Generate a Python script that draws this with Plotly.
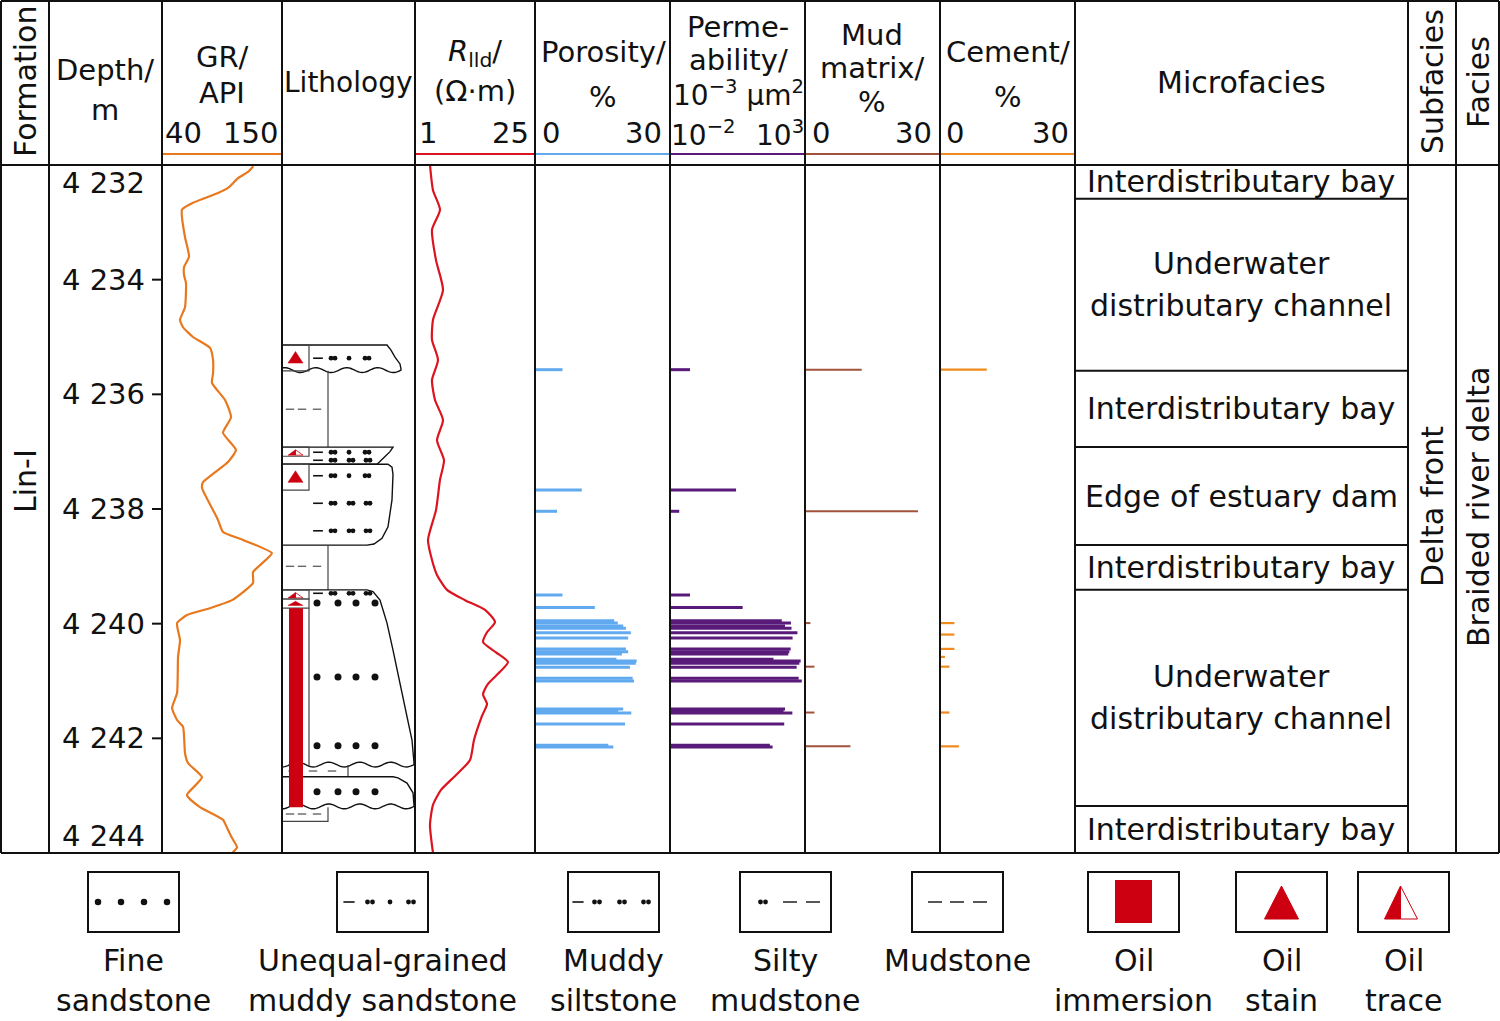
import numpy as np
import plotly.graph_objects as go

W, H = 1500, 1021
FONT = "DejaVu Sans"
INK = "#111111"
C_GR, C_RLLD, C_PORO, C_PERM, C_MUD, C_CEM, C_OIL = (
    "#e8781e", "#dc1420", "#62aaf0", "#5a1a7a", "#a0523a", "#f08a1c", "#cc0010")

# ---------------- data ----------------
depth_ticks = [4232, 4234, 4236, 4238, 4240, 4242, 4244]
depth_labels = ["4 232", "4 234", "4 236", "4 238", "4 240", "4 242", "4 244"]

gr_depth = [4232.02, 4232.12, 4232.23, 4232.40, 4232.49, 4232.66, 4232.78, 4232.91, 4233.26, 4233.60,
            4233.78, 4233.92, 4234.06, 4234.48, 4234.70, 4234.83, 4235.00, 4235.19, 4235.40, 4235.63,
            4235.80, 4236.10, 4236.40, 4236.67, 4236.97, 4237.18, 4237.53, 4237.63, 4238.02, 4238.19,
            4238.40, 4238.54, 4238.77, 4238.98, 4239.10, 4239.29, 4239.59, 4239.73, 4239.85, 4239.99,
            4240.29, 4240.58, 4241.21, 4241.47, 4241.68, 4241.80, 4242.26, 4242.43, 4242.68, 4242.99,
            4243.20, 4243.42, 4243.56, 4243.74, 4243.90, 4244.00]
gr_api = [123.7, 118.8, 109.7, 100.5, 91.3, 68.4, 58.3, 58.3, 61.1, 64.8,
          60.2, 60.2, 62.0, 61.1, 56.5, 59.3, 68.4, 84.0, 86.8, 86.8,
          85.8, 97.8, 103.3, 95.9, 107.8, 100.5, 77.6, 76.7, 86.8, 91.3,
          95.9, 114.3, 140.8, 129.8, 123.4, 123.4, 104.2, 84.0, 62.9, 53.8,
          56.5, 54.7, 53.8, 49.2, 53.8, 59.3, 61.1, 63.8, 76.7, 62.9,
          74.8, 95.9, 99.6, 104.2, 108.8, 104.2]

rlld_depth = [4232.00, 4232.44, 4232.78, 4233.13, 4233.66, 4234.18, 4234.70, 4235.05, 4235.40, 4235.75,
              4236.10, 4236.45, 4236.80, 4237.15, 4237.49, 4238.02, 4238.54, 4238.89, 4239.15, 4239.41,
              4239.59, 4239.76, 4239.97, 4240.15, 4240.32, 4240.50, 4240.67, 4240.84, 4241.05, 4241.23,
              4241.40, 4241.61, 4242.03, 4242.38, 4242.64, 4242.90, 4243.16, 4243.51, 4244.00]
rlld_ohmm = [4.0, 4.6, 6.0, 4.4, 5.2, 6.6, 4.6, 4.4, 5.6, 4.4,
             5.0, 6.6, 5.4, 6.8, 6.0, 5.2, 3.6, 4.4, 5.4, 7.4,
             11.0, 15.0, 17.0, 15.4, 14.6, 17.2, 19.6, 18.0, 15.6, 14.6,
             15.4, 14.4, 12.8, 12.0, 9.2, 6.2, 4.6, 4.0, 4.6]

core_depth = [4235.57, 4237.67, 4238.04, 4239.50, 4239.72, 4239.95, 4239.99, 4240.04, 4240.08, 4240.16,
              4240.25, 4240.44, 4240.49, 4240.53, 4240.62, 4240.65, 4240.69, 4240.76, 4240.95, 4241.00,
              4241.49, 4241.52, 4241.56, 4241.75, 4242.12, 4242.15]
porosity = [6.1, 10.4, 4.9, 6.1, 13.3, 17.6, 18.4, 19.6, 20.2, 21.3,
            20.7, 20.2, 20.7, 19.3, 18.1, 22.6, 22.4, 21.1, 21.7, 22.0,
            19.6, 18.5, 21.4, 20.0, 16.3, 17.4]
permeability = [0.055, 2.8, 0.022, 0.055, 4.9, 138, 302, 182, 316, 525,
                 347, 295, 263, 240, 68, 690, 617, 490, 583, 760,
                 182, 160, 340, 170, 50, 63]

mud_depth = [4235.57, 4238.04, 4239.99, 4240.75, 4241.55, 4242.14]
mud_matrix = [12.6, 25.1, 1.2, 2.1, 2.1, 10.1]
cement_depth = [4235.57, 4239.99, 4240.19, 4240.44, 4240.58, 4240.75, 4241.55, 4242.14]
cement = [10.4, 3.2, 3.2, 3.2, 1.1, 2.1, 2.1, 4.2]

mf_top = [4232.00, 4232.59, 4235.59, 4236.92, 4238.63, 4239.41, 4243.18]
mf_bottom = [4232.59, 4235.59, 4236.92, 4238.63, 4239.41, 4243.18, 4244.00]
mf_names = ["Interdistributary bay", "Underwater|distributary channel", "Interdistributary bay",
            "Edge of estuary dam", "Interdistributary bay", "Underwater|distributary channel",
            "Interdistributary bay"]
formation = "Lin-I"
subfacies = "Delta front"
facies = "Braided river delta"

# lithology beds (width = grain-size profile of the column)
bed_top = [4235.14, 4235.59, 4236.92, 4237.22, 4238.63, 4239.41, 4242.47, 4242.67, 4243.20]
bed_bottom = [4235.59, 4236.92, 4237.22, 4238.63, 4239.41, 4242.47, 4242.67, 4243.20, 4243.45]
bed_lith = ["unequal", "mudstone", "muddy_silt", "muddy_silt", "mudstone", "fine", "silty_mud", "fine", "mudstone"]
bed_base = ["wavy", "flat", "flat", "flat", "flat", "wavy", "flat", "wavy", "flat"]
bed_edge = [
    [(4235.14, 105), (4235.23, 109), (4235.35, 113), (4235.47, 118), (4235.56, 119)],
    [(4235.59, 46), (4236.92, 46)],
    [(4236.92, 111), (4237.00, 108), (4237.10, 102), (4237.22, 95)],
    [(4237.22, 106), (4237.27, 110), (4237.40, 111), (4237.84, 110), (4238.31, 106),
     (4238.51, 100), (4238.61, 92), (4238.63, 85)],
    [(4238.63, 46), (4239.41, 46)],
    [(4239.41, 85), (4239.44, 91), (4239.59, 98), (4239.99, 105), (4240.46, 111),
     (4241.04, 118), (4241.62, 125), (4242.03, 130), (4242.43, 132)],
    [(4242.47, 66), (4242.67, 66)],
    [(4242.67, 111), (4242.69, 116), (4242.78, 125), (4242.95, 131), (4243.16, 132)],
    [(4243.20, 46), (4243.45, 46)],
]
pattern_depth = [4235.37, 4236.26, 4237.01, 4237.15, 4237.42, 4237.90, 4238.38, 4239.00,
                 4239.47, 4239.64, 4240.93, 4242.13, 4242.57, 4242.93, 4243.32]
pattern_type = ["unequal", "mudstone", "unequal", "muddy_silt", "unequal", "muddy_silt", "muddy_silt",
                "mudstone", "muddy_silt", "fine", "fine", "fine", "silty_mud", "fine", "mudstone"]

oil_top = [4235.14, 4236.92, 4237.22, 4239.41, 4239.57, 4239.73]
oil_bottom = [4235.59, 4237.08, 4237.67, 4239.57, 4239.73, 4243.20]
oil_grade = ["stain", "trace", "stain", "trace", "stain", "immersion"]

legend_labels = [["Fine", "sandstone"], ["Unequal-grained", "muddy sandstone"], ["Muddy", "siltstone"],
                 ["Silty", "mudstone"], ["Mudstone"], ["Oil", "immersion"], ["Oil", "stain"], ["Oil", "trace"]]
legend_kind = ["fine", "unequal", "muddy_silt", "silty_mud", "mudstone", "immersion", "stain", "trace"]

# ---------------- layout geometry (pixels) ----------------
TOPY, HEADY, BOTY = 1, 165, 853
COLS = [1, 49, 162, 282, 415, 535, 670, 805, 940, 1075, 1408, 1456, 1499]
PXM = (BOTY - HEADY) / (depth_ticks[-1] - depth_ticks[0])   # pixels per metre


def dom(a, b):
    return [a / W, b / W]


fig = go.Figure()


def seg(depths, values, base):
    xs, ys = [], []
    for d, v in zip(depths, values):
        xs += [base, v, None]
        ys += [d, d, None]
    return xs, ys


def add(tr):
    tr.update(hoverinfo="skip", showlegend=False)
    fig.add_trace(tr)


add(go.Scatter(x=gr_api, y=gr_depth, xaxis="x", yaxis="y", mode="lines",
               line=dict(color=C_GR, width=2.2, shape="spline", smoothing=0.5)))
add(go.Scatter(x=rlld_ohmm, y=rlld_depth, xaxis="x3", yaxis="y", mode="lines",
               line=dict(color=C_RLLD, width=2.2, shape="spline", smoothing=0.6)))
for xa, d, v, base, col, w in [("x4", core_depth, porosity, 0, C_PORO, 3),
                               ("x5", core_depth, permeability, 0.01, C_PERM, 3),
                               ("x6", mud_depth, mud_matrix, 0, C_MUD, 2),
                               ("x7", cement_depth, cement, 0, C_CEM, 2.2)]:
    xs, ys = seg(d, v, base)
    add(go.Scatter(x=xs, y=ys, xaxis=xa, yaxis="y", mode="lines", line=dict(color=col, width=w)))

shapes = []


def pth(pts):
    return "M " + " L ".join(f"{x:.2f},{y:.5f}" for x, y in pts)


# ---- lithology outlines ----
amp = 2.4 / PXM
for i in range(len(bed_top)):
    top, bot, edge, base = bed_top[i], bed_bottom[i], bed_edge[i], bed_base[i]
    const = all(wv == edge[0][1] for _, wv in edge)
    if const:
        pts = [(edge[0][1], top), (edge[0][1], bot)]
        if i == len(bed_top) - 1 or abs(bed_top[i + 1] - bot) > 1e-6:
            pts.append((0, bot))
        lw, lc = 1.2, "#444444"
    else:
        pts = [(0, top)] + [(wv, d) for d, wv in edge]
        if base == "wavy":
            w0 = edge[-1][1]
            xs = np.linspace(w0, 0, 90)
            ys = bot - 0.3 * amp + amp * np.sin(2 * np.pi * (w0 - xs) / 31)
            pts += list(zip(xs, ys))
        else:
            pts += [(0, bot)]
        lw, lc = 1.4, INK
    shapes.append(dict(type="path", xref="x2", yref="y", path=pth(pts),
                       line=dict(color=lc, width=lw), fillcolor="rgba(0,0,0,0)"))

# ---- oil-bearing column ----
OILW = 27
for top, bot, g in zip(oil_top, oil_bottom, oil_grade):
    h = bot - top
    if g == "immersion":
        shapes.append(dict(type="rect", xref="x2", yref="y", x0=7, x1=21, y0=top, y1=bot,
                           fillcolor=C_OIL, line=dict(width=0)))
        fb = [b for t, b, l in zip(bed_top, bed_bottom, bed_lith) if t <= top < b]
        shapes.append(dict(type="line", xref="x2", yref="y", x0=OILW, x1=OILW, y0=top,
                           y1=fb[0] if fb else bot, line=dict(color="#444444", width=1.2)))
        continue
    shapes.append(dict(type="rect", xref="x2", yref="y", x0=0, x1=OILW, y0=top, y1=bot,
                       line=dict(color="#444444", width=1.2), fillcolor="rgba(0,0,0,0)"))
    if g == "stain":
        ya, yb = top + 0.25 * h, bot - 0.3 * h
        shapes.append(dict(type="path", xref="x2", yref="y",
                           path=pth([(6, yb), (13.5, ya), (21, yb)]) + " Z",
                           fillcolor=C_OIL, line=dict(color=C_OIL, width=0.5)))
    else:
        ya, yb = top + 0.3 * h, bot - 0.12 * h
        shapes.append(dict(type="path", xref="x2", yref="y",
                           path=pth([(13.5, yb), (13.5, ya), (21, yb)]) + " Z",
                           fillcolor="white", line=dict(color=C_OIL, width=0.8)))
        shapes.append(dict(type="path", xref="x2", yref="y",
                           path=pth([(6, yb), (13.5, ya), (13.5, yb)]) + " Z",
                           fillcolor=C_OIL, line=dict(color=C_OIL, width=0.5)))

# ---- lithology patterns ----
TEMPL = {
    "fine": {"big": [35, 56, 74, 93]},
    "unequal": {"dash": [36], "dot": [49, 53, 67, 83, 87]},
    "muddy_silt": {"dash": [36], "dot": [49, 53, 67, 71, 84, 88]},
    "silty_mud": {"dot": [9, 13], "gdash": [31, 50]},
    "mudstone": {"gdash": [8, 20, 35]},
}
glyph = {"big": ([], []), "dot": ([], []), "dash": ([], []), "gdash": ([], [])}
for d, t in zip(pattern_depth, pattern_type):
    for k, offs in TEMPL[t].items():
        for o in offs:
            glyph[k][0].append(o)
            glyph[k][1].append(d)
GSTYLE = {
    "big": dict(symbol="circle", size=7, color=INK),
    "dot": dict(symbol="circle", size=4.8, color=INK),
    "dash": dict(symbol="line-ew", size=7, line=dict(color=INK, width=1.6)),
    "gdash": dict(symbol="line-ew", size=6, line=dict(color="#666666", width=1.4)),
}
for k, (gx, gy) in glyph.items():
    add(go.Scatter(x=gx, y=gy, xaxis="x2", yaxis="y", mode="markers", marker=GSTYLE[k]))

# ---- frame ----
def cline(x0, y0, x1, y1, color=INK, width=2):
    shapes.append(dict(type="line", xref="x8", yref="y2", x0=x0, y0=y0, x1=x1, y1=y1,
                       line=dict(color=color, width=width)))


for y in (TOPY, HEADY, BOTY):
    cline(COLS[0], y, COLS[-1], y)
for x in COLS:
    cline(x, TOPY, x, BOTY)
for (a, b), col in zip([(162, 282), (415, 535), (535, 670), (670, 805), (805, 940), (940, 1075)],
                       [C_GR, C_RLLD, C_PORO, C_PERM, C_MUD, C_CEM]):
    cline(a + 1, 154, b - 1, 154, col, 2)
for d in depth_ticks[1:-1]:
    shapes.append(dict(type="line", xref="x8", yref="y", x0=152, x1=162, y0=d, y1=d,
                       line=dict(color=INK, width=2)))
for d in mf_top[1:]:
    shapes.append(dict(type="line", xref="x8", yref="y", x0=1075, x1=1408, y0=d, y1=d,
                       line=dict(color=INK, width=2)))

# ---- legend ----
LBOX_X = [88, 337, 568, 740, 912, 1088, 1236, 1358]
LB_W, LB_Y0, LB_Y1, LB_ROW = 91, 872, 932, 902
LTEMPL = {
    "fine": {"big": [10, 33, 56, 79]},
    "unequal": {"dash": [12], "dot": [30.5, 35.5, 53, 71.5, 76.5]},
    "muddy_silt": {"dash": [10], "dot": [26.5, 31.5, 51.5, 56.5, 75.5, 80.5]},
    "silty_mud": {"dot": [20.5, 25.5], "ldash": [50, 73]},
    "mudstone": {"ldash": [23, 45, 68]},
}
lg = {"big": ([], []), "dot": ([], []), "dash": ([], []), "ldash": ([], [])}
for x0, kind in zip(LBOX_X, legend_kind):
    shapes.append(dict(type="rect", xref="x8", yref="y2", x0=x0, x1=x0 + LB_W, y0=LB_Y0, y1=LB_Y1,
                       line=dict(color=INK, width=2), fillcolor="rgba(0,0,0,0)"))
    cx = x0 + LB_W / 2
    if kind in LTEMPL:
        for k, offs in LTEMPL[kind].items():
            for o in offs:
                lg[k][0].append(x0 + o)
                lg[k][1].append(LB_ROW)
    elif kind == "immersion":
        shapes.append(dict(type="rect", xref="x8", yref="y2", x0=cx - 18.5, x1=cx + 18.5, y0=880, y1=923,
                           fillcolor=C_OIL, line=dict(width=0)))
    elif kind == "stain":
        shapes.append(dict(type="path", xref="x8", yref="y2",
                           path=pth([(cx - 17, 919), (cx, 886), (cx + 17, 919)]) + " Z",
                           fillcolor=C_OIL, line=dict(color=C_OIL, width=1)))
    else:
        ax = cx - 3
        shapes.append(dict(type="path", xref="x8", yref="y2",
                           path=pth([(ax, 919), (ax, 886), (ax + 17, 919)]) + " Z",
                           fillcolor="white", line=dict(color=C_OIL, width=1)))
        shapes.append(dict(type="path", xref="x8", yref="y2",
                           path=pth([(ax - 16, 919), (ax, 886), (ax, 919)]) + " Z",
                           fillcolor=C_OIL, line=dict(color=C_OIL, width=1)))
LSTYLE = {
    "big": dict(symbol="circle", size=6.5, color=INK),
    "dot": dict(symbol="circle", size=4.8, color=INK),
    "dash": dict(symbol="line-ew", size=8, line=dict(color=INK, width=1.6)),
    "ldash": dict(symbol="line-ew", size=10, line=dict(color=INK, width=1.4)),
}
for k, (gx, gy) in lg.items():
    add(go.Scatter(x=gx, y=gy, xaxis="x8", yaxis="y2", mode="markers", marker=LSTYLE[k]))

# ---- text ----
ann = []


def txt(x, y, s, size=30, yref="y2", angle=0, yshift=0):
    ann.append(dict(x=x, y=y, xref="x8", yref=yref, text=s, showarrow=False, textangle=angle,
                    xanchor="center", yanchor="middle", yshift=yshift,
                    font=dict(family=FONT, size=size, color=INK)))


HS = 29
txt(25, 82, "Formation", 30, angle=-90)
txt(105, 70, "Depth/", HS); txt(105, 110, "m", HS)
txt(222, 57, "GR/", HS); txt(222, 93, "API", HS)
txt(183, 133, "40", HS); txt(250, 133, "150", HS)
txt(348, 82, "Lithology", 28)
txt(475, 53, "<i>R</i><sub>lld</sub>/", HS); txt(475, 91, "(Ω·m)", HS)
txt(428, 133, "1", HS); txt(510, 133, "25", HS)
txt(603, 52, "Porosity/", HS); txt(603, 97, "%", HS)
txt(551, 133, "0", HS); txt(643, 133, "30", HS)
txt(738, 27, "Perme-", HS); txt(738, 60, "ability/", HS)
txt(738, 93, "10<sup>−3</sup> μm<sup>2</sup>", 28)
txt(703, 133, "10<sup>−2</sup>", 28); txt(780, 133, "10<sup>3</sup>", 28)
txt(872, 35, "Mud", HS); txt(872, 68, "matrix/", HS); txt(872, 102, "%", HS)
txt(821, 133, "0", HS); txt(913, 133, "30", HS)
txt(1008, 52, "Cement/", HS); txt(1008, 97, "%", HS)
txt(955, 133, "0", HS); txt(1050, 133, "30", HS)
txt(1241, 82, "Microfacies", 30)
txt(1432, 82, "Subfacies", 30, angle=-90)
txt(1478, 82, "Facies", 30, angle=-90)

for d, lab in zip(depth_ticks, depth_labels):
    sh = -18 if d == depth_ticks[0] else (17 if d == depth_ticks[-1] else 0)
    txt(103, d, lab, 29, yref="y", yshift=sh)

for t, b, name in zip(mf_top, mf_bottom, mf_names):
    parts = name.split("|")
    if len(parts) == 1:
        txt(1241, (t + b) / 2, parts[0], 30, yref="y")
    else:
        txt(1241, (t + b) / 2, parts[0], 30, yref="y", yshift=21)
        txt(1241, (t + b) / 2, parts[1], 30, yref="y", yshift=-21)

txt(25, 481, formation, 30, angle=-90)
txt(1432, 507, subfacies, 30, angle=-90)
txt(1478, 507, facies, 30, angle=-90)

for x0, labs in zip(LBOX_X, legend_labels):
    for j, s in enumerate(labs):
        txt(x0 + LB_W / 2, 960 + 40 * j, s, 30)

ydom = [(H - BOTY) / H, (H - HEADY) / H]
hid = dict(visible=False, fixedrange=True, showgrid=False, zeroline=False)
fig.update_layout(
    width=W, height=H, margin=dict(l=0, r=0, t=0, b=0),
    paper_bgcolor="white", plot_bgcolor="rgba(0,0,0,0)",
    showlegend=False, shapes=shapes, annotations=ann,
    xaxis=dict(domain=dom(162, 282), range=[40, 150], anchor="y", **hid),
    xaxis2=dict(domain=dom(282, 415), range=[0, 133], anchor="y", **hid),
    xaxis3=dict(domain=dom(415, 535), range=[1, 25], anchor="y", **hid),
    xaxis4=dict(domain=dom(535, 670), range=[0, 30], anchor="y", **hid),
    xaxis5=dict(domain=dom(670, 805), type="log", range=[-2, 3], anchor="y", **hid),
    xaxis6=dict(domain=dom(805, 940), range=[0, 30], anchor="y", **hid),
    xaxis7=dict(domain=dom(940, 1075), range=[0, 30], anchor="y", **hid),
    xaxis8=dict(domain=[0, 1], range=[0, W], anchor="y2", **hid),
    yaxis=dict(domain=ydom, range=[depth_ticks[-1], depth_ticks[0]], anchor="x", **hid),
    yaxis2=dict(domain=[0, 1], range=[H, 0], anchor="x8", **hid),
)

fig.write_html("out.html", config={"displayModeBar": False},
               post_script="document.body.style.margin='0px';document.body.style.overflow='hidden';")
